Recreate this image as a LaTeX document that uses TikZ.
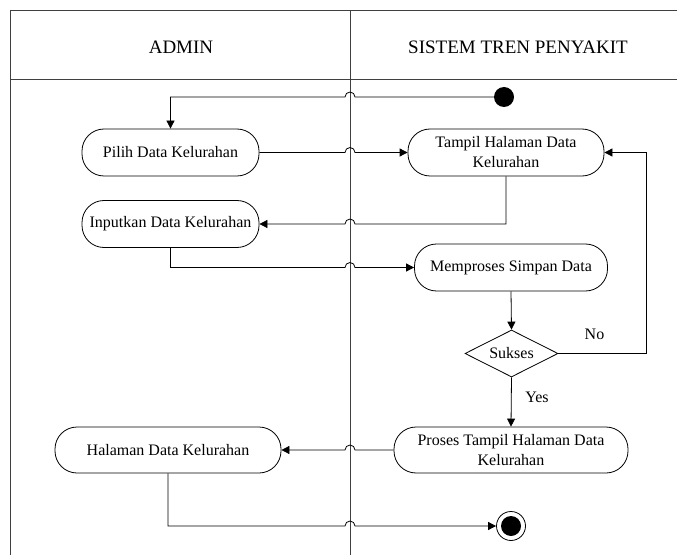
\documentclass[tikz,border=0pt]{standalone}
\usepackage{fontspec}
\setmainfont{Liberation Serif}
\usetikzlibrary{arrows.meta,shapes.geometric}
\begin{document}
\begin{tikzpicture}[x=1pt,y=1pt,
  lane/.style={line width=0.8pt,draw=black!75},
  act/.style={draw,line width=0.8pt,rounded corners=22pt,align=center,inner sep=0pt,
    font=\fontsize{16}{20}\selectfont},
  dec/.style={draw,line width=0.8pt,diamond,aspect=2,inner sep=0pt,minimum width=93pt,minimum height=47pt,
    font=\fontsize{16}{20}\selectfont},
  lbl/.style={font=\fontsize{16}{20}\selectfont},
  hdr/.style={font=\fontsize{19}{22}\selectfont},
  arr/.style={line width=0.8pt,-{Triangle[length=8pt,width=8pt]}},
  ln/.style={line width=0.8pt}]
\useasboundingbox (0,0) rectangle (677,555);
% swimlane frame
\draw[lane] (10,0) -- (10,545) -- (677,545);
\draw[lane] (10,476) -- (677,476);
\draw[lane] (350,0) -- (350,545);
\node[hdr] (hadmin) at (181,508) {ADMIN};
\node[hdr] (hsys) at (518,508) {SISTEM TREN PENYAKIT};
% nodes
\node[circle,fill=black,minimum size=20pt,inner sep=0pt] (start) at (504,458) {};
\node[act,minimum width=177pt,minimum height=47pt] (pilih) at (170.5,402.5) {Pilih Data Kelurahan};
\node[act,minimum width=196pt,minimum height=47pt] (tampil) at (506,402.5) {Tampil Halaman Data\\Kelurahan};
\node[act,minimum width=177pt,minimum height=47pt] (input) at (170.5,331) {Inputkan Data Kelurahan};
\node[act,minimum width=193pt,minimum height=47pt] (proses) at (511,287.5) {Memproses Simpan Data};
\node[dec] (sukses) at (511.5,201.5) {Sukses};
\node[act,minimum width=234pt,minimum height=46pt] (tampil2) at (511,105) {Proses Tampil Halaman Data\\Kelurahan};
\node[act,minimum width=226pt,minimum height=46pt] (halaman) at (168,105) {Halaman Data Kelurahan};
\node[circle,draw,line width=0.8pt,minimum size=29pt,inner sep=0pt] (end) at (511,29) {};
\node[circle,fill=black,minimum size=20pt,inner sep=0pt] (endin) at (end.center) {};
% connectors
\draw[arr] (start.west) -- (355,458) arc[start angle=0,end angle=180,radius=5] -- (pilih.north |- start.west) -- (pilih.north);
\draw[arr] (pilih.east) -- (345,402.5) arc[start angle=180,end angle=0,radius=5] -- (tampil.west);
\draw[arr] (tampil.south) -- (506,331) -- (355,331) arc[start angle=0,end angle=180,radius=5] -- (input.east);
\draw[arr] (input.south) -- (170.5,287.5) -- (345,287.5) arc[start angle=180,end angle=0,radius=5] -- (proses.west);
\draw[arr] (proses.south) -- (sukses.north);
\draw[arr] (sukses.east) -- (646.5,201.5) -- (646.5,402.5) -- (tampil.east);
\draw[arr] (sukses.south) -- (tampil2.north);
\draw[arr] (tampil2.west) -- (355,105) arc[start angle=0,end angle=180,radius=5] -- (halaman.east);
\draw[arr] (halaman.south) -- (168,29) -- (345,29) arc[start angle=180,end angle=0,radius=5] -- (end.west);
\node[lbl] (no) at (594.5,221) {No};
\node[lbl] (yes) at (537,158) {Yes};
\end{tikzpicture}
\end{document}
